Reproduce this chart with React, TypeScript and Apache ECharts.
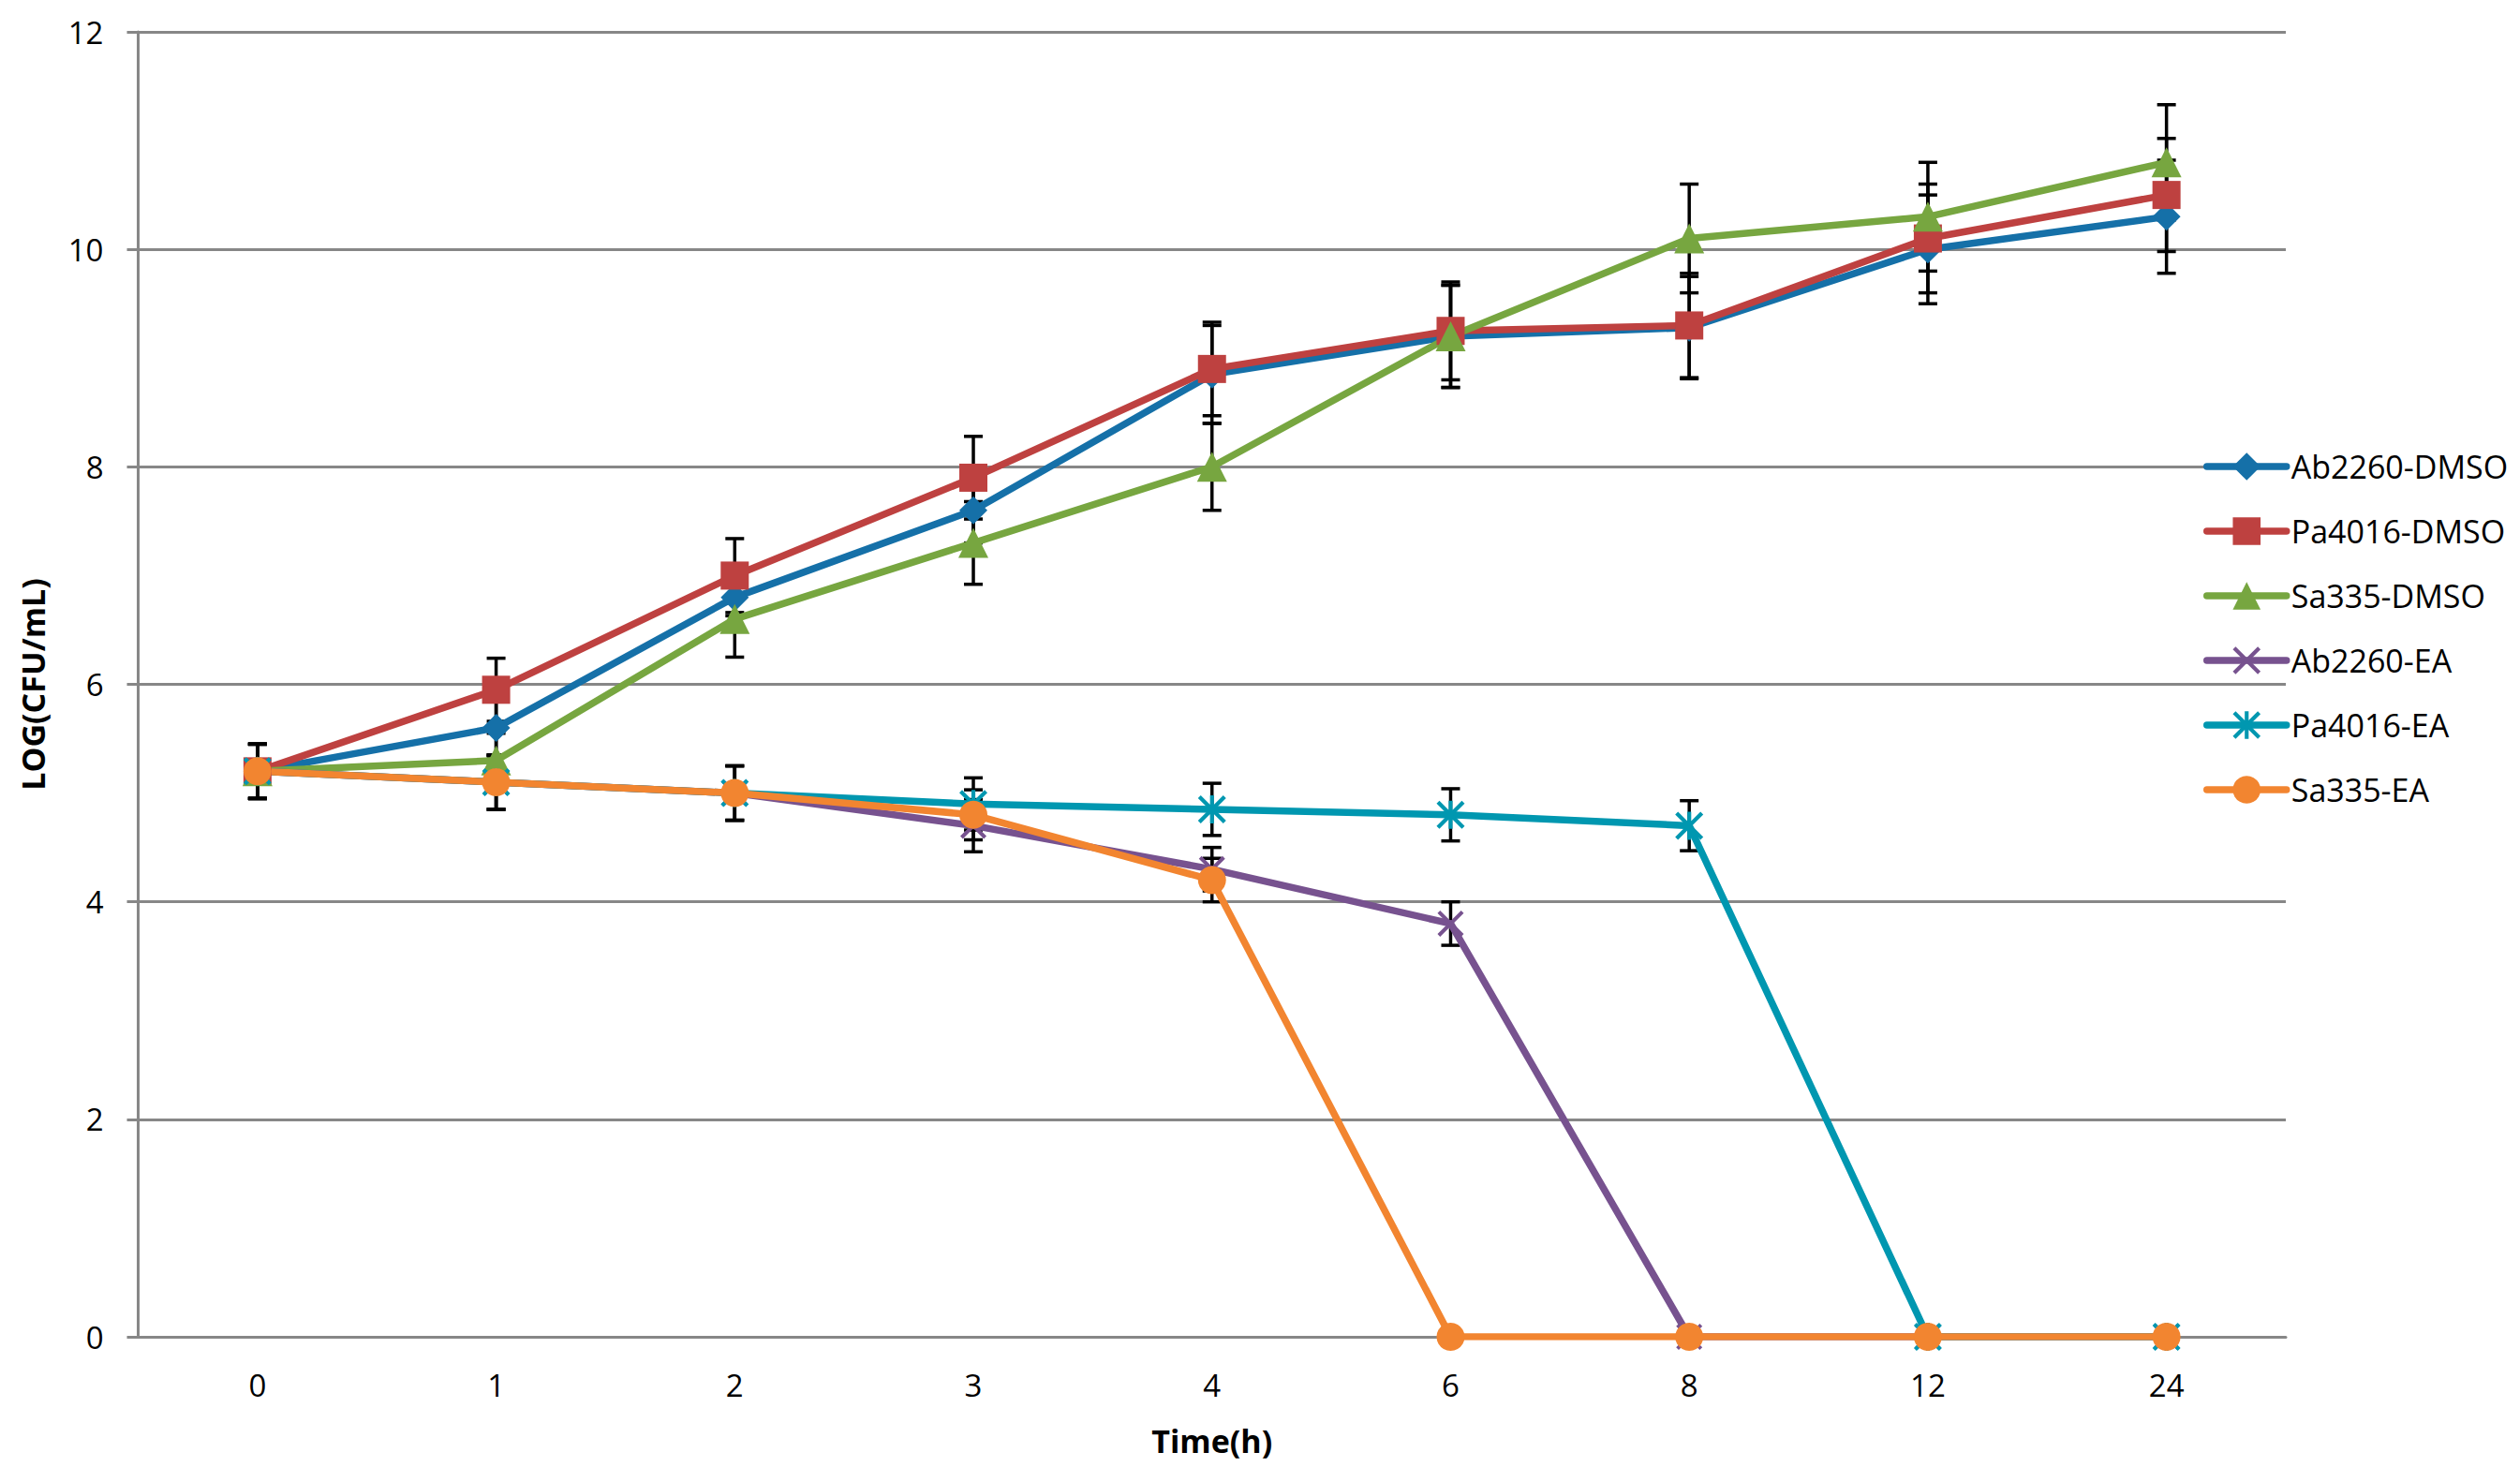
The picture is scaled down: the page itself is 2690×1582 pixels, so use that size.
import React, { useEffect, useRef } from "react";
import * as echarts from "echarts";

const categories = ["0", "1", "2", "3", "4", "6", "8", "12", "24"];

const ab2260Dmso = [5.2, 5.6, 6.8, 7.6, 8.85, 9.2, 9.28, 10.0, 10.3];
const pa4016Dmso = [5.2, 5.95, 7.0, 7.9, 8.9, 9.25, 9.3, 10.1, 10.5];
const sa335Dmso = [5.2, 5.3, 6.6, 7.3, 8.0, 9.2, 10.1, 10.3, 10.8];
const ab2260Ea = [5.2, 5.1, 5.0, 4.7, 4.3, 3.8, 0, 0, 0];
const pa4016Ea = [5.2, 5.1, 5.0, 4.9, 4.85, 4.8, 4.7, 0, 0];
const sa335Ea = [5.2, 5.1, 5.0, 4.8, 4.2, 0, 0, 0, 0];

const ab2260DmsoErr = [0.25, 0.26, 0.17, 0.3, 0.45, 0.47, 0.47, 0.5, 0.52];
const pa4016DmsoErr = [0.25, 0.29, 0.34, 0.38, 0.43, 0.45, 0.48, 0.5, 0.52];
const sa335DmsoErr = [0.25, 0.25, 0.35, 0.38, 0.4, 0.47, 0.5, 0.5, 0.53];
const ab2260EaErr = [0.25, 0.25, 0.25, 0.24, 0.2, 0.2, 0, 0, 0];
const pa4016EaErr = [0.25, 0.25, 0.25, 0.24, 0.24, 0.24, 0.23, 0, 0];
const sa335EaErr = [0.25, 0.25, 0.25, 0.23, 0.2, 0, 0, 0, 0];

const yTicks = { min: 0, max: 12, interval: 2 };

const X_PATH =
  "path://M0,10 L10,0 L100,90 L90,100 Z M90,0 L100,10 L10,100 L0,90 Z";
const STAR_PATH =
  "path://M0,10 L10,0 L100,90 L90,100 Z M90,0 L100,10 L10,100 L0,90 Z M43,0 L57,0 L57,100 L43,100 Z";

const seriesDefs = [
  { name: "Ab2260-DMSO", data: ab2260Dmso, err: ab2260DmsoErr, color: "#1570A8", symbol: "diamond", size: 30 },
  { name: "Pa4016-DMSO", data: pa4016Dmso, err: pa4016DmsoErr, color: "#BE4140", symbol: "rect", size: 30 },
  { name: "Sa335-DMSO", data: sa335Dmso, err: sa335DmsoErr, color: "#77A640", symbol: "triangle", size: 32 },
  { name: "Ab2260-EA", data: ab2260Ea, err: ab2260EaErr, color: "#77528F", symbol: X_PATH, size: 28 },
  { name: "Pa4016-EA", data: pa4016Ea, err: pa4016EaErr, color: "#0097B0", symbol: STAR_PATH, size: 30 },
  { name: "Sa335-EA", data: sa335Ea, err: sa335EaErr, color: "#F28530", symbol: "circle", size: 30 },
];

const FONT = "Open Sans";
const GRID_COLOR = "#878787";

export default function App() {
  const ref = useRef<HTMLDivElement>(null);

  useEffect(() => {
    document.body.style.margin = "0";
    if (!ref.current) return;
    const chart = echarts.init(ref.current, undefined, { renderer: "svg" });

    const errorSeries = seriesDefs.map((s) => ({
      type: "custom",
      name: s.name + "-err",
      z: 1,
      silent: true,
      encode: { x: 0, y: [1, 2] },
      data: s.data
        .map((v, i) => [i, v - s.err[i], v + s.err[i], s.err[i]])
        .filter((d) => d[3] > 0),
      renderItem: (params: any, api: any) => {
        const idx = api.value(0);
        const lo = api.coord([idx, api.value(1)]);
        const hi = api.coord([idx, api.value(2)]);
        const cx = lo[0];
        const w = 10;
        const style = { stroke: "#000000", lineWidth: 3.5 };
        return {
          type: "group",
          children: [
            { type: "line", shape: { x1: cx, y1: hi[1], x2: cx, y2: lo[1] }, style },
            { type: "line", shape: { x1: cx - w, y1: hi[1], x2: cx + w, y2: hi[1] }, style },
            { type: "line", shape: { x1: cx - w, y1: lo[1], x2: cx + w, y2: lo[1] }, style },
          ],
        };
      },
    }));

    const lineSeries = seriesDefs.map((s) => ({
      type: "line",
      name: s.name,
      z: 2,
      data: s.data,
      symbol: s.symbol,
      symbolSize: s.size,
      showAllSymbol: true,
      itemStyle: { color: s.color, borderWidth: 0 },
      lineStyle: { color: s.color, width: 7.5, cap: "round", join: "round" },
      emphasis: { disabled: true },
    }));

    chart.setOption({
      animation: false,
      backgroundColor: "#ffffff",
      grid: { left: 147.5, right: 250, top: 34, bottom: 155, containLabel: false },
      legend: {
        orient: "vertical",
        left: 2347,
        top: 473,
        itemWidth: 85,
        itemHeight: 37,
        itemGap: 29,
        data: seriesDefs.map((s) => s.name),
        textStyle: { fontFamily: FONT, fontSize: 34, color: "#000000", lineHeight: 40 },
        lineStyle: { width: 7.5, cap: "round" },
        selectedMode: false,
      },
      xAxis: {
        type: "category",
        data: categories,
        boundaryGap: true,
        name: "Time(h)",
        nameLocation: "middle",
        nameGap: 94,
        nameTextStyle: { fontFamily: FONT, fontSize: 34, fontWeight: "bold", color: "#000000" },
        axisLine: { show: true, lineStyle: { color: GRID_COLOR, width: 3 } },
        axisTick: { show: false },
        axisLabel: { fontFamily: FONT, fontSize: 33, color: "#000000", margin: 35 },
        splitLine: { show: false },
      },
      yAxis: {
        type: "value",
        min: yTicks.min,
        max: yTicks.max,
        interval: yTicks.interval,
        name: "LOG(CFU/mL)",
        nameLocation: "middle",
        nameGap: 96,
        nameRotate: 90,
        nameTextStyle: { fontFamily: FONT, fontSize: 34, fontWeight: "bold", color: "#000000" },
        axisLine: { show: true, lineStyle: { color: GRID_COLOR, width: 3 } },
        axisTick: { show: true, length: 12, lineStyle: { color: GRID_COLOR, width: 3 } },
        axisLabel: { fontFamily: FONT, fontSize: 33, color: "#000000", margin: 37 },
        splitLine: { show: true, lineStyle: { color: GRID_COLOR, width: 3 } },
      },
      series: [...errorSeries, ...lineSeries],
    });

    return () => chart.dispose();
  }, []);

  return <div ref={ref} style={{ width: 2690, height: 1582 }} />;
}
